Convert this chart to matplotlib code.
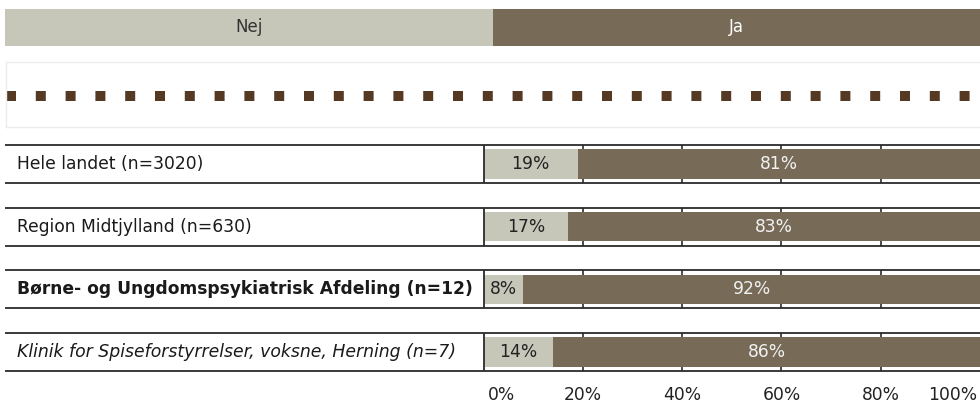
import matplotlib
matplotlib.use("Agg")
import matplotlib.pyplot as plt
from matplotlib.transforms import offset_copy, ScaledTranslation

# ── Data ─────────────────────────────────────────────────────────────────────
answers = ["Nej", "Ja"]
groups = [
    "Hele landet (n=3020)",
    "Region Midtjylland (n=630)",
    "Børne- og Ungdomspsykiatrisk Afdeling (n=12)",
    "Klinik for Spiseforstyrrelser, voksne, Herning (n=7)",
]
group_styles = ["normal", "normal", "bold", "italic"]
nej = [19, 17, 8, 14]
ja = [81, 83, 92, 86]
ticks = [0, 20, 40, 60, 80, 100]

# ── Style ────────────────────────────────────────────────────────────────────
C_NEJ = "#c6c7b9"
C_JA = "#776b58"
C_DOT = "#553923"
C_LINE = "#2b2b2b"
FS = 12.3
plt.rcParams["font.family"] = ["DejaVu Sans"]

W, H = 980, 403
fig = plt.figure(figsize=(W / 100, H / 100), dpi=100)


def px_axes(x0, y0, x1, y1):
    """Axes placed by pixel box (origin top left)."""
    return fig.add_axes([x0 / W, 1 - y1 / H, (x1 - x0) / W, (y1 - y0) / H])


# ── Header with answer categories ───────────────────────────────────────────
axh = px_axes(5, 9, 980, 46)
n = len(answers)
for k, (lab, col, tcol) in enumerate(zip(answers, [C_NEJ, C_JA], ["#333333", "white"])):
    axh.barh(0, 1, left=k, height=1, color=col, edgecolor="none")
    axh.text(k + 0.5, 0, lab, ha="center", va="center", color=tcol, fontsize=12)
axh.set_xlim(0, n)
axh.set_ylim(-0.5, 0.5)
axh.axis("off")

# ── Marker strip ─────────────────────────────────────────────────────────────
axd = px_axes(6, 62, 981, 127)
axd.set_xlim(0, 1)
axd.set_ylim(0, 1)
axd.axhline(0.47, color=C_DOT, lw=7.2, ls=(0, (1, 1.98)), solid_capstyle="butt",
            dash_capstyle="butt")
axd.set_xticks([])
axd.set_yticks([])
for s in axd.spines.values():
    s.set_edgecolor("#ececec")
    s.set_linewidth(1)

# ── Stacked percentage bars ──────────────────────────────────────────────────
ax = px_axes(5, 140, 980, 378)
x_left = -96.4
ax.set_xlim(x_left, 100)
ax.set_ylim(len(groups) - 1 + 0.415, -0.383)

box_h = 0.303
bar_h = 0.463
for i, (g, st) in enumerate(zip(groups, group_styles)):
    ax.hlines([i - box_h, i + box_h], x_left, 100, color=C_LINE, lw=1.3, zorder=3)
    ax.vlines(0, i - box_h, i + box_h, color=C_LINE, lw=1.3, zorder=3)
    ax.vlines(ticks[1:-1], i - box_h, i + box_h, color=C_LINE, lw=1.2, zorder=1)
    ax.text(x_left, i, g, ha="left", va="center",
            fontsize=12.45 if st == "italic" else FS,
            fontweight="bold" if st == "bold" else "normal",
            fontstyle="italic" if st == "italic" else "normal",
            color="#1a1a1a",
            transform=offset_copy(ax.transData, fig=fig, x=12, units="dots"))

ypos = list(range(len(groups)))
ax.barh(ypos, nej, height=bar_h, color=C_NEJ, edgecolor="none", zorder=2)
ax.barh(ypos, ja, left=nej, height=bar_h, color=C_JA, edgecolor="none", zorder=2)
for i in ypos:
    ax.text(nej[i] / 2, i, f"{nej[i]}%", ha="center", va="center",
            fontsize=FS, color="#222222", zorder=4)
    ax.text(nej[i] + ja[i] / 2, i, f"{ja[i]}%", ha="center", va="center",
            fontsize=FS, color="#f2f2f2", zorder=4)

ax.set_xticks(ticks)
ax.set_xticklabels([f"{t}%" for t in ticks], fontsize=FS, color="#222222")
ax.tick_params(axis="x", length=0, pad=5.5)
ax.set_yticks([])
for s in ax.spines.values():
    s.set_visible(False)
tl = ax.get_xticklabels()
tl[0].set_ha("left")
tl[0].set_transform(tl[0].get_transform() + ScaledTranslation(4 / 100, 0, fig.dpi_scale_trans))
tl[-1].set_ha("right")
tl[-1].set_transform(tl[-1].get_transform() + ScaledTranslation(-3 / 100, 0, fig.dpi_scale_trans))

fig.savefig("out.png", dpi=100)
